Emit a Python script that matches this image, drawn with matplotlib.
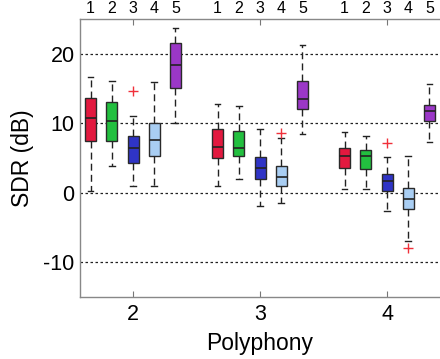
import matplotlib
matplotlib.use("Agg")
import matplotlib.pyplot as plt

plt.rcParams['font.family'] = ['Liberation Sans', 'DejaVu Sans']

polyphony = [2, 3, 4]
methods = ['1', '2', '3', '4', '5']
colors = ['#E2193F', '#22BF3F', '#2F34C6', '#A9CEF3', '#9B37C7']

# rows: methods 1..5 ; columns: polyphony 2,3,4
whislo = [[0.2, 1.0, 0.5],
          [3.8, 2.0, 0.5],
          [0.9, -1.9, -2.6],
          [1.0, -1.5, -6.9],
          [10.0, 8.4, 7.3]]
q1 = [[7.4, 5.0, 3.6],
      [7.4, 5.3, 3.4],
      [4.3, 2.0, 0.3],
      [5.3, 1.0, -2.3],
      [15.1, 12.0, 10.3]]
med = [[10.7, 6.6, 5.3],
       [10.3, 6.5, 5.3],
       [6.4, 3.5, 1.7],
       [7.6, 2.3, -0.9],
       [18.4, 13.5, 11.7]]
q3 = [[13.6, 9.1, 6.5],
      [13.0, 8.9, 6.2],
      [8.1, 5.1, 2.7],
      [10.0, 3.9, 0.7],
      [21.6, 16.1, 12.6]]
whishi = [[16.6, 12.8, 8.7],
          [16.1, 12.5, 8.2],
          [11.0, 9.1, 5.1],
          [16.0, 7.9, 5.3],
          [23.7, 21.3, 15.7]]
fliers = [[[], [], []],
          [[], [], []],
          [[14.6], [], [7.1]],
          [[], [8.6], [-8.0]],
          [[], [], []]]

fig = plt.figure(figsize=(4.4, 3.59), dpi=100)
ax = fig.add_axes([0.182, 0.173, 0.818, 0.774])

offset = 0.167
stats, positions, facecols = [], [], []
for g, p in enumerate(polyphony):
    for m in range(len(methods)):
        stats.append(dict(whislo=whislo[m][g], q1=q1[m][g], med=med[m][g],
                          q3=q3[m][g], whishi=whishi[m][g], fliers=fliers[m][g]))
        positions.append(p + (m - 2) * offset)
        facecols.append(colors[m])

for y in [-10, 0, 10, 20]:
    ax.axhline(y, color='#222222', linestyle=(0, (2, 2)), linewidth=0.9, zorder=0)

bp = ax.bxp(stats, positions=positions, widths=0.087, patch_artist=True,
            showfliers=True, capwidths=0.045,
            boxprops=dict(edgecolor='#2a2a2a', linewidth=1.0),
            medianprops=dict(color='#222222', linewidth=1.2),
            whiskerprops=dict(color='#222222', linestyle=(0, (5, 3)), linewidth=1.0),
            capprops=dict(color='#222222', linewidth=1.0),
            flierprops=dict(marker='+', markeredgecolor='#F0303A', markersize=7,
                            markeredgewidth=1.0, linestyle='none'))
for patch, c in zip(bp['boxes'], facecols):
    patch.set_facecolor(c)

ax.set_xlim(1.583, 4.417)
ax.set_ylim(-15, 25)
ax.set_xticks(polyphony)
ax.set_xticklabels([str(p) for p in polyphony], fontsize=15.5)
ax.set_yticks([-10, 0, 10, 20])
ax.set_yticklabels(['-10', '0', '10', '20'], fontsize=15.5)
ax.tick_params(axis='x', direction='in', length=4, color='#777777', top=True,
               pad=5)
ax.tick_params(axis='y', length=0, pad=4)
ax.set_xlabel('Polyphony', fontsize=16.5, labelpad=5)
ax.set_ylabel('SDR (dB)', fontsize=16.5, labelpad=7)

for s in ['left', 'bottom', 'top']:
    ax.spines[s].set_color('#888888')
    ax.spines[s].set_linewidth(1.0)
ax.spines['right'].set_visible(False)

sec = ax.secondary_xaxis('top')
sec.set_xticks(positions)
sec.set_xticklabels([methods[i % 5] for i in range(len(positions))], fontsize=11.5)
sec.tick_params(length=0, pad=2)
sec.spines['top'].set_visible(False)

fig.savefig('out.png', dpi=100)
